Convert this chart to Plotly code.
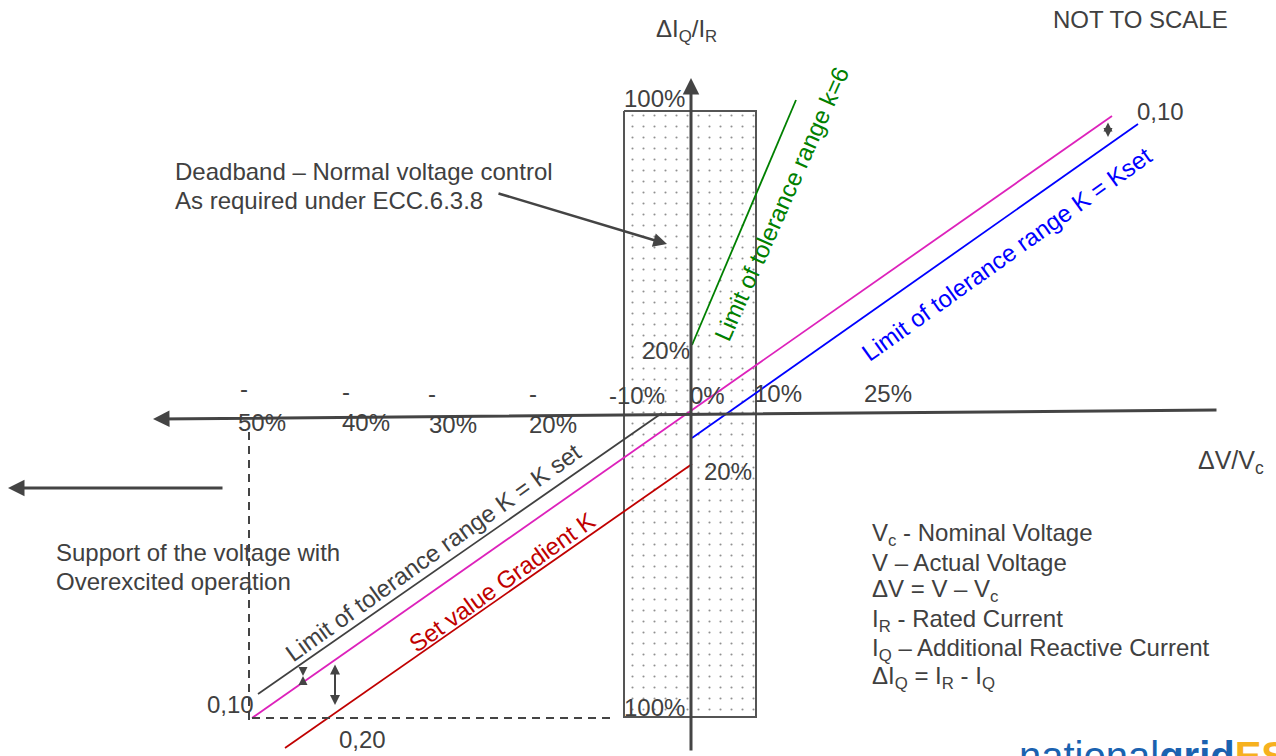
import plotly.graph_objects as go

# ---- Schematic canvas (diagram is "NOT TO SCALE": positions in canvas units) ----
W, H = 1276, 756
FONT = "Liberation Sans, Arial, sans-serif"
GREY = "#404040"
FS = 24

# Deadband box outline
box_x = [624, 756, 756, 624, 624]
box_y = [111, 111, 717, 717, 111]

# Characteristic lines (end points)
green_x, green_y = [692, 796], [345, 100]          # limit k=6
magenta_x, magenta_y = [252, 1112], [718, 116]     # set value line
blue_x, blue_y = [692, 1138], [438, 124]           # limit K = Kset (upper)
grey_x, grey_y = [258, 662], [694, 413]            # limit K = K set (lower)
red_x, red_y = [285, 692], [748, 464]              # set value gradient K

# Dashed guides
dashv_x, dashv_y = [249, 249], [432, 722]
dashh_x, dashh_y = [252, 610], [718, 718]

# Axes (tail -> tip)
vaxis = (691, 752, 691, 78)
haxis = (1218, 410, 153, 419)
left_arrow = (224, 488, 8, 488)
deadband_arrow = (497, 193, 667, 244)

# Tick labels
pos_ticks = ["-10%", "0%", "10%", "25%"]
pos_tx = [637, 707, 778, 888]
pos_ty = [395, 395, 393, 393]
neg_ticks = ["50%", "40%", "30%", "20%"]
neg_tx = [262, 366, 453, 553]
neg_ty = [422, 422, 424, 424]
minus_tx = [244, 346, 432, 533]
minus_ty = [388, 391, 393, 393]
y_ticks = ["100%", "20%", "20%", "100%"]
y_tx = [654, 666, 728, 654]
y_ty = [98, 350, 471, 707]

legend_lines = [
    "V<sub>c</sub> - Nominal Voltage",
    "V – Actual Voltage",
    "ΔV = V – V<sub>c</sub>",
    "I<sub>R</sub> - Rated Current",
    "I<sub>Q</sub> – Additional Reactive Current",
    "ΔI<sub>Q</sub> = I<sub>R</sub> - I<sub>Q</sub>",
]
legend_y = [534, 562, 590, 620, 649, 677]

fig = go.Figure()

# Deadband box with dotted pattern
fig.add_trace(go.Scatter(
    x=box_x, y=box_y, mode="lines", fill="toself", fillcolor="white",
    fillpattern=dict(shape=".", size=11, solidity=0.03, fgcolor="#222", bgcolor="white"),
    line=dict(color="#555555", width=2), hoverinfo="skip", showlegend=False))

def add_line(x, y, color, width=1.8, dash=None):
    fig.add_trace(go.Scatter(x=x, y=y, mode="lines",
                             line=dict(color=color, width=width, dash=dash),
                             hoverinfo="skip", showlegend=False))

add_line(green_x, green_y, "#008000")
add_line(magenta_x, magenta_y, "#dd22bb")
add_line(blue_x, blue_y, "#0000ff")
add_line(grey_x, grey_y, GREY)
add_line(red_x, red_y, "#c00000")
add_line(dashv_x, dashv_y, "#444444", 2, "8px,6px")
add_line(dashh_x, dashh_y, "#444444", 2, "8px,6px")

def arrow(t, width=3, size=1.1, side="end", head=2, color="#444444"):
    ax, ay, x, y = t
    fig.add_annotation(x=x, y=y, ax=ax, ay=ay, xref="x", yref="y", axref="x", ayref="y",
                       text="", showarrow=True, arrowhead=head, arrowsize=size,
                       arrowwidth=width, arrowcolor=color, arrowside=side, startarrowhead=head,
                       startarrowsize=size)

arrow(vaxis)
arrow(haxis)
arrow(left_arrow)
arrow(deadband_arrow, width=2.5, size=1.1)
# small dimension arrows
arrow((1108, 121, 1108, 137), width=2, size=0.9, side="end+start")
arrow((335, 663, 335, 705), width=2, size=1.0, side="end+start")
arrow((303, 668, 303, 676), width=2, size=0.9)
arrow((303, 684, 303, 676), width=2, size=0.9)

def txt(x, y, s, size=FS, color=GREY, angle=0, xanchor="center", yanchor="middle"):
    fig.add_annotation(x=x, y=y, xref="x", yref="y", text=s, showarrow=False,
                       font=dict(family=FONT, size=size, color=color), textangle=angle,
                       xanchor=xanchor, yanchor=yanchor)

for s, x, y in zip(pos_ticks, pos_tx, pos_ty):
    txt(x, y, s)
for s, x, y in zip(neg_ticks, neg_tx, neg_ty):
    txt(x, y, s)
for x, y in zip(minus_tx, minus_ty):
    txt(x, y, "-")
for s, x, y in zip(y_ticks, y_tx, y_ty):
    txt(x, y, s)

txt(686, 30, "ΔI<sub>Q</sub>/I<sub>R</sub>")
txt(1140, 19, "NOT TO SCALE")
txt(1231, 462, "ΔV/V<sub>c</sub>", size=25)
txt(1160, 111, "0,10")
txt(230, 704, "0,10")
txt(362, 739, "0,20")

txt(173, 171, "Deadband – Normal voltage control", xanchor="left")
txt(173, 200, "As required under ECC.6.3.8", xanchor="left")
txt(54, 552, "Support of the voltage with", xanchor="left")
txt(54, 581, "Overexcited operation", xanchor="left")

for s, y in zip(legend_lines, legend_y):
    txt(870, y, s, xanchor="left")

# rotated labels along lines
txt(781, 204, "Limit of tolerance range k=6", color="#008000", angle=-66)
txt(1006, 254, "Limit of tolerance range K = Kset", color="#0000ff", angle=-35.5)
txt(433, 552, "Limit of tolerance range K = K set", color=GREY, angle=-35.5)
txt(501, 582, "Set value Gradient K", color="#c00000", angle=-35.5)

# logo (partially cut at the bottom edge)
fig.add_annotation(x=1017, y=756, xref="x", yref="y", showarrow=False, xanchor="left",
                   yanchor="middle",
                   text="national<b>grid</b><b><span style='color:#f6b11e'>ESO</span></b>",
                   font=dict(family=FONT, size=40, color="#1a62b0"))

fig.update_layout(
    width=W, height=H, margin=dict(l=0, r=0, t=0, b=0),
    paper_bgcolor="white", plot_bgcolor="white", showlegend=False,
    xaxis=dict(range=[0, W], visible=False, fixedrange=True),
    yaxis=dict(range=[H, 0], visible=False, fixedrange=True),
)

fig.write_html("out.html", config={"displayModeBar": False},
               post_script="document.body.style.margin='0';document.body.style.overflow='hidden';")
